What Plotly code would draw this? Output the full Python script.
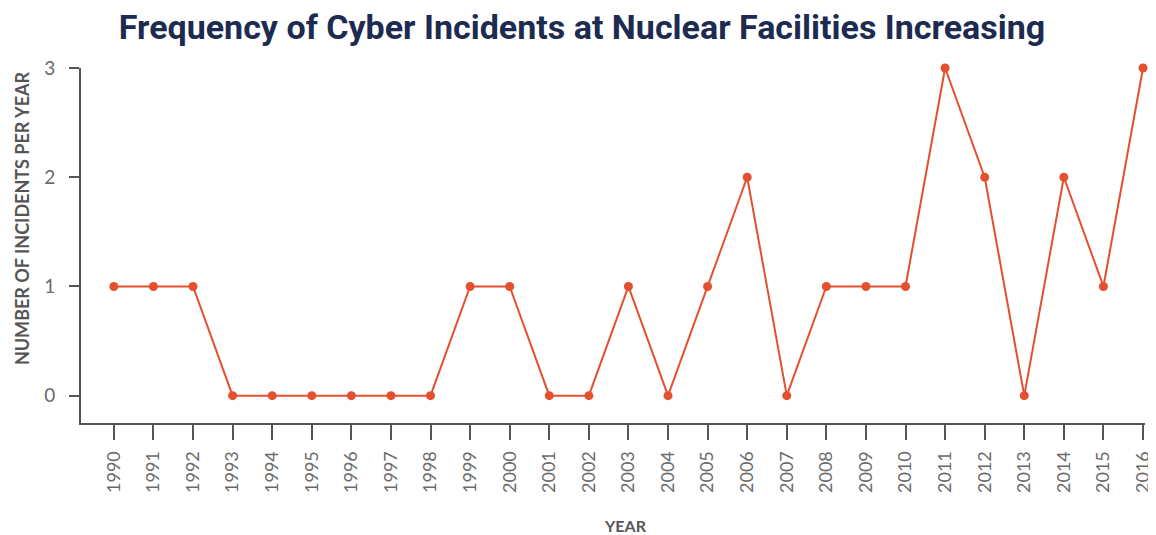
import plotly.graph_objects as go

years = list(range(1990, 2017))
incidents = [1, 1, 1, 0, 0, 0, 0, 0, 0, 1, 1, 0, 0, 1, 0, 1, 2, 0, 1, 1, 1, 3, 2, 0, 2, 1, 3]
y_ticks = [0, 1, 2, 3]

fig = go.Figure()
fig.add_trace(go.Scatter(
    x=years, y=incidents, mode="lines+markers",
    line=dict(color="#e4502f", width=2),
    marker=dict(color="#e4502f", size=9),
    cliponaxis=False, showlegend=False,
))

fig.update_layout(
    width=1148, height=527,
    margin=dict(l=73, r=11, t=60, b=112),
    plot_bgcolor="white", paper_bgcolor="white",
    title=dict(text="<b>Frequency of Cyber Incidents at Nuclear Facilities Increasing</b>",
               x=0.5, xanchor="center", y=0.964, yanchor="middle",
               font=dict(family="Roboto", size=34, color="#1c2b4f")),
    xaxis=dict(
        range=[1989.17, 2016.05], tickmode="array", tickvals=years,
        ticktext=[str(y) for y in years], tickangle=-90,
        ticks="outside", ticklen=15, tickwidth=2, tickcolor="#555",
        showline=True, linecolor="#555", linewidth=2, showgrid=False, zeroline=False,
        automargin=False, ticklabelstandoff=4,
        tickfont=dict(family="Lato", size=18, color="#6a6a6a"),
    ),
    yaxis=dict(
        range=[-0.25, 3.0], tickmode="array", tickvals=y_ticks,
        ticks="outside", ticklen=10, tickwidth=2, tickcolor="#555",
        showline=True, linecolor="#555", linewidth=2, showgrid=False, zeroline=False,
        automargin=False, ticklabelstandoff=10,
        tickfont=dict(family="Lato", size=19, color="#6a6a6a"),
    ),
    annotations=[
        dict(text="<b>NUMBER OF INCIDENTS PER YEAR</b>", textangle=-90,
             xref="paper", yref="paper", x=-0.0555, y=0.577,
             xanchor="center", yanchor="middle", showarrow=False,
             font=dict(family="Lato", size=18, color="#555")),
        dict(text="<b>YEAR</b>",
             xref="paper", yref="paper", x=0.512, y=-0.290,
             xanchor="center", yanchor="middle", showarrow=False,
             font=dict(family="Lato", size=16, color="#555")),
    ],
)

fig.write_html("out.html")
